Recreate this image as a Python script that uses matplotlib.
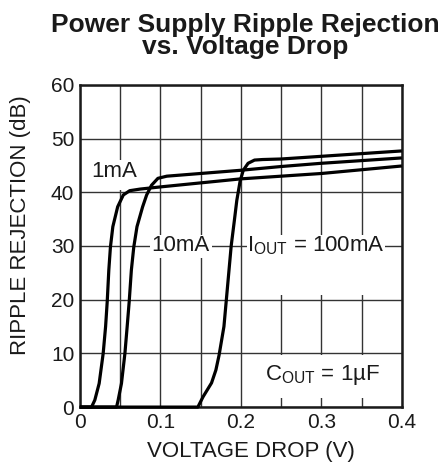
import matplotlib
matplotlib.use('Agg')
import matplotlib.pyplot as plt
from matplotlib.patches import Rectangle

plt.rcParams['font.family'] = ['Liberation Sans', 'DejaVu Sans']

# curves: voltage drop (V) vs ripple rejection (dB)
v_1ma = [0, 0.0145, 0.0186, 0.024, 0.029, 0.032, 0.034, 0.036, 0.038, 0.041,
         0.047, 0.054, 0.062, 0.075, 0.10, 0.20, 0.25, 0.30, 0.35, 0.40]
rr_1ma = [0, 0, 1.3, 4.4, 10, 15, 19.6, 25.5, 29.8, 33.6,
          37.3, 39.5, 40.3, 40.6, 41.0, 42.5, 43.0, 43.5, 44.2, 44.9]

v_10ma = [0, 0.0456, 0.0476, 0.0517, 0.056, 0.0588, 0.0613, 0.064, 0.067, 0.071,
          0.078, 0.083, 0.089, 0.097, 0.108, 0.20, 0.25, 0.30, 0.35, 0.40]
rr_10ma = [0, 0, 1.3, 4.4, 10, 15, 19.6, 25.5, 29.8, 33.6,
           37.3, 39.5, 41.3, 42.6, 43.0, 44.1, 44.8, 45.4, 45.9, 46.4]

v_100ma = [0, 0.1466, 0.153, 0.1636, 0.169, 0.173, 0.179, 0.182, 0.185, 0.188,
           0.192, 0.195, 0.199, 0.203, 0.209, 0.217, 0.227, 0.25, 0.30, 0.35, 0.40]
rr_100ma = [0, 0, 1.9, 4.5, 6.9, 9.7, 15, 20, 25, 30,
            34.8, 38.5, 42, 44.1, 45.4, 46.0, 46.1, 46.2, 46.7, 47.2, 47.7]

xticks = [0, 0.1, 0.2, 0.3, 0.4]
xtick_labels = ['0', '0.1', '0.2', '0.3', '0.4']
yticks = [0, 10, 20, 30, 40, 50, 60]

ink = '#1a1a1a'

fig = plt.figure(figsize=(4.46, 4.69), dpi=100)
ax = fig.add_axes([0.179, 0.132, 0.722, 0.687])

ax.set_xlim(0, 0.4)
ax.set_ylim(0, 60)
ax.set_xticks(xticks)
ax.set_xticklabels(xtick_labels)
ax.set_xticks([0.05, 0.15, 0.25, 0.35], minor=True)
ax.set_yticks(yticks)
ax.tick_params(which='both', length=0, labelsize=15, colors=ink, pad=4)
ax.grid(which='both', color='#333333', linewidth=1.0)
ax.set_axisbelow(True)
for s in ax.spines.values():
    s.set_linewidth(1.8)
    s.set_color(ink)

# white boxes that break the grid behind the labels
boxes = [(0.010, 40.5, 0.065, 5.6),
         (0.087, 27.7, 0.077, 4.3),
         (0.2075, 20.9, 0.1715, 11.1),
         (0.23, 1.7, 0.168, 8.0)]
for x0, y0, w, h in boxes:
    ax.add_patch(Rectangle((x0, y0), w, h, facecolor='white',
                           edgecolor='none', zorder=1.5))

for v, rr in [(v_1ma, rr_1ma), (v_10ma, rr_10ma), (v_100ma, rr_100ma)]:
    ax.plot(v, rr, color='black', linewidth=2.3, solid_capstyle='butt',
            solid_joinstyle='round', zorder=3, clip_on=False)

ax.text(0.043, 43.8, '1mA', fontsize=16, color=ink, ha='center', va='center', zorder=2)
ax.text(0.125, 30, '10mA', fontsize=16, color=ink, ha='center', va='center', zorder=2)
ax.text(0.293, 30, r'I$_{\mathregular{OUT}}$ = 100mA', fontsize=16, color=ink,
        ha='center', va='center', zorder=2)
ax.text(0.302, 5.9, r'C$_{\mathregular{OUT}}$ = 1µF', fontsize=16, color=ink,
        ha='center', va='center', zorder=2)

ax.set_xlabel('VOLTAGE DROP (V)', fontsize=16, color=ink)
ax.xaxis.set_label_coords(0.53, -0.105)
ax.set_ylabel('RIPPLE REJECTION (dB)', fontsize=16, color=ink)
ax.yaxis.set_label_coords(-0.152, 0.565)

fig.text(0.549, 0.923, 'Power Supply Ripple Rejection\nvs. Voltage Drop',
         fontsize=19, fontweight='bold', color=ink, ha='center', va='center',
         linespacing=0.92)

fig.savefig('out.png', dpi=100)
